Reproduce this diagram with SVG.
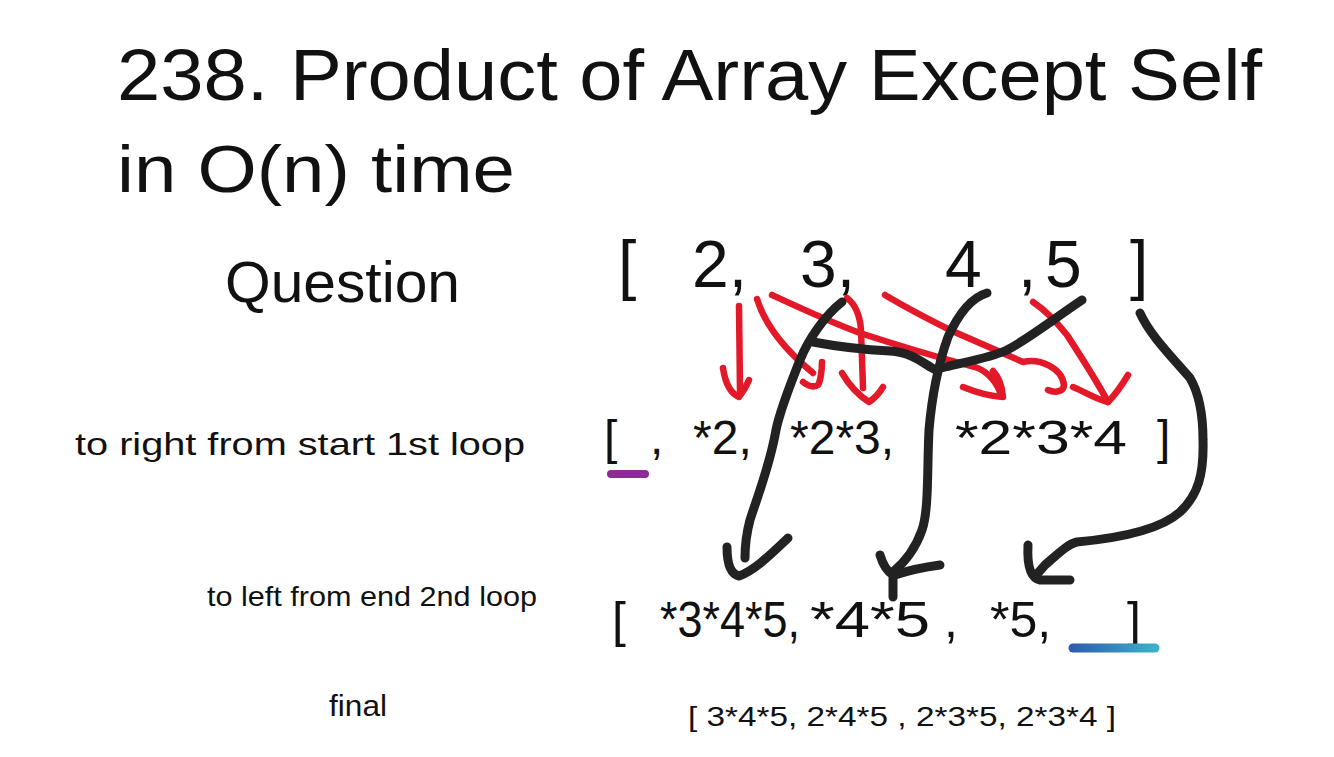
<svg xmlns="http://www.w3.org/2000/svg" width="1334" height="757" viewBox="0 0 1334 757">
<defs>
<style>
text{font-family:"Liberation Sans","DejaVu Sans",sans-serif;fill:#111}
.red{fill:none;stroke:#e3192a;stroke-width:6.5;stroke-linecap:round;stroke-linejoin:round}
.blk{fill:none;stroke:#222;stroke-width:9;stroke-linecap:round;stroke-linejoin:round}
</style>
<linearGradient id="blueg" gradientUnits="userSpaceOnUse" x1="1070" x2="1158" y1="648" y2="648">
<stop offset="0" stop-color="#2f5bb0"/>
<stop offset="1" stop-color="#3cb3c8"/>
</linearGradient>
</defs>
<rect width="1334" height="757" fill="#fff"/>

<g id="title">
<text x="117" y="100" font-size="72" textLength="1145" lengthAdjust="spacingAndGlyphs">238. Product of Array Except Self</text>
<text x="117" y="192" font-size="66" textLength="398" lengthAdjust="spacingAndGlyphs">in O(n) time</text>
</g>
<g id="question">
<text x="225" y="302" font-size="58" textLength="235" lengthAdjust="spacingAndGlyphs">Question</text>
</g>

<g id="input-array" font-size="66">
<text x="618" y="287">[</text>
<text x="692" y="287">2,</text>
<text x="800" y="287">3,</text>
<text x="945" y="287">4</text>
<text x="1018" y="287">,</text>
<text x="1045" y="287">5</text>
<text x="1130" y="287">]</text>
</g>

<g id="label-loop1">
<text x="75" y="455" font-size="32" textLength="450" lengthAdjust="spacingAndGlyphs">to right from start 1st loop</text>
</g>
<g id="array-loop1" font-size="48">
<text x="604" y="454">[</text>
<text x="650" y="454">,</text>
<text x="693" y="454">*2,</text>
<text x="790" y="454">*2*3,</text>
<text x="955" y="454" textLength="172" lengthAdjust="spacingAndGlyphs">*2*3*4</text>
<text x="1157" y="454">]</text>
</g>
<line x1="611" y1="474" x2="645" y2="474" stroke="#8b2c97" stroke-width="8" stroke-linecap="round"/>

<g id="label-loop2">
<text x="207" y="606" font-size="28" textLength="330" lengthAdjust="spacingAndGlyphs">to left from end 2nd loop</text>
</g>
<g id="array-loop2" font-size="50">
<text x="612" y="637">[</text>
<text x="660" y="637" textLength="140" lengthAdjust="spacingAndGlyphs">*3*4*5,</text>
<text x="810" y="637" textLength="120" lengthAdjust="spacingAndGlyphs">*4*5</text>
<text x="944" y="637">,</text>
<text x="990" y="637">*5,</text>
<text x="1127" y="637">]</text>
</g>
<line x1="1073" y1="648" x2="1155" y2="648" stroke="url(#blueg)" stroke-width="9" stroke-linecap="round"/>

<g id="label-final">
<text x="329" y="716" font-size="30" textLength="58" lengthAdjust="spacingAndGlyphs">final</text>
</g>
<g id="array-final">
<text x="688" y="726" font-size="28" textLength="428" lengthAdjust="spacingAndGlyphs">[  3*4*5, 2*4*5 , 2*3*5,  2*3*4  ]</text>
</g>

<g id="connectors">
<path class="red" d="M739,306 L740,392"/>
<path class="red" d="M723,368 C725,382 730,393 739,397 C743,392 747,385 749,380"/>
<path class="red" d="M757,299 C765,325 785,350 813,373"/>
<path class="red" d="M822,362 C822,372 820,382 818,385 C813,388 808,386 803,382"/>
<path class="red" d="M847,298 C856,305 860,316 861,330 L863,388"/>
<path class="red" d="M842,373 C849,385 858,395 869,402 C875,398 880,392 883,387"/>
<path class="red" d="M772,295 C800,308 830,322 860,333 C900,346 940,358 975,367 C990,372 998,385 1001,395"/>
<path class="red" d="M963,387 C975,392 990,396 1003,397 C1002,386 998,376 993,371"/>
<path class="red" d="M885,295 C910,310 930,320 950,330 C980,343 1000,352 1023,362 C1040,358 1062,368 1064,385 C1064,392 1055,393 1048,390"/>
<path class="red" d="M1033,302 C1045,310 1055,320 1067,335 C1080,355 1095,378 1108,402"/>
<path class="red" d="M1073,387 C1085,392 1098,400 1108,402 C1115,395 1122,385 1128,375"/>
<path class="blk" d="M842,302 C825,315 808,340 800,360 C790,385 780,410 776,430 C770,465 758,495 750,520 C746,535 745,550 745,558"/>
<path class="blk" d="M727,547 C727,563 730,574 739,576 C755,570 770,555 788,538"/>
<path class="blk" d="M1082,300 C1055,318 1030,338 1007,350 C990,358 965,362 945,367 C938,369 935,370 932,368 C922,362 910,352 890,351 C870,350 845,348 813,342"/>
<path class="blk" d="M987,293 C970,298 958,315 948,337 C938,365 932,395 929,430 C927,470 929,510 922,530 C915,550 905,562 893,572"/>
<path class="blk" d="M880,555 C883,565 888,572 893,575 L893,597"/>
<path class="blk" d="M940,565 C925,567 910,570 895,575"/>
<path class="blk" d="M1140,313 C1150,335 1170,355 1190,378 C1200,395 1203,420 1203,440 C1204,475 1198,495 1180,512 C1160,530 1120,538 1077,542 C1068,544 1060,552 1045,565 L1038,573"/>
<path class="blk" d="M1028,545 C1027,565 1030,578 1040,580 L1070,580"/>
</g>
</svg>
